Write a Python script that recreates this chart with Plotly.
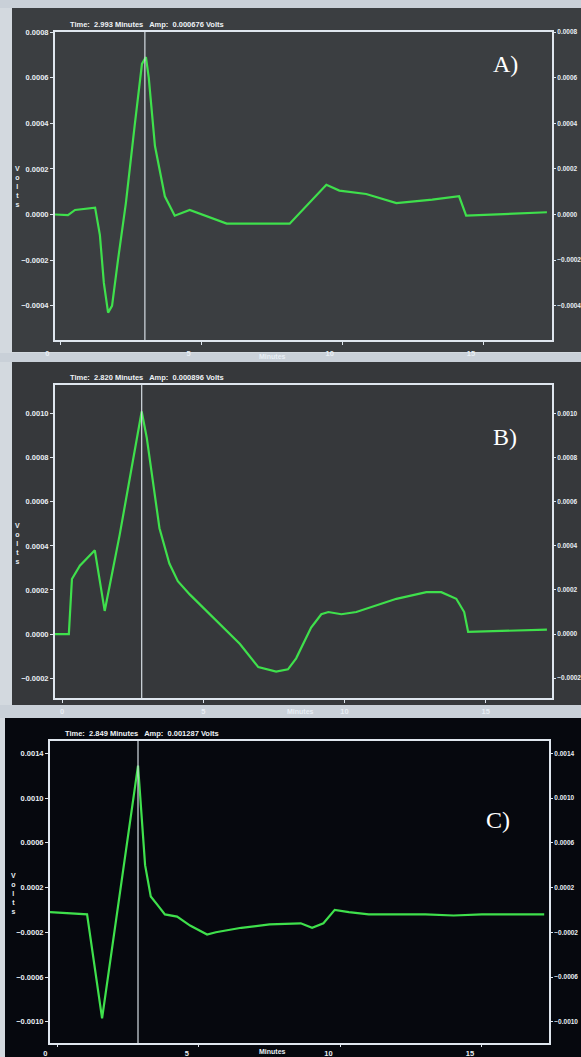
import plotly.graph_objects as go

W, H = 581, 1057

# ---------------- data ----------------
A_TIME = [-0.19, 0.27, 0.52, 1.23, 1.40, 1.54, 1.69, 1.83, 2.04, 2.32, 2.64, 2.89, 3.03, 3.13,
          3.35, 3.70, 4.05, 4.58, 5.89, 8.12, 9.42, 9.88, 10.83, 11.90, 13.17, 14.12, 14.37, 17.23]
A_VOLTS = [0.0, -0.000003, 0.00002, 0.00003, -0.00009, -0.0003, -0.00043, -0.0004, -0.0002,
           0.00005, 0.0004, 0.00066, 0.00069, 0.0006, 0.0003, 0.00008, -0.000005, 0.00002,
           -0.00004, -0.00004, 0.00013, 0.000105, 0.00009, 0.00005, 0.000065, 0.00008,
           -0.000005, 0.00001]

B_TIME = [-0.25, 0.24, 0.35, 0.63, 1.16, 1.51, 2.04, 2.82, 3.00, 3.20, 3.45, 3.80, 4.10, 4.52,
          5.23, 6.30, 6.95, 7.58, 8.00, 8.29, 8.82, 9.18, 9.43, 9.89, 10.42, 11.84, 12.90,
          13.43, 13.96, 14.24, 14.38, 17.17]
B_VOLTS = [0.0, 0.0, 0.00025, 0.00031, 0.00038, 0.000105, 0.00045, 0.00101, 0.00089, 0.00070,
           0.00048, 0.00032, 0.00024, 0.00018, 0.00009, -0.000045, -0.00015, -0.00017, -0.00016,
           -0.00011, 0.00003, 0.00009, 0.0001, 0.00009, 0.0001, 0.00016, 0.00019, 0.00019,
           0.00016, 0.00010, 0.00001, 0.00002]

C_TIME = [-0.26, 1.05, 1.58, 2.85, 3.10, 3.30, 3.55, 3.80, 4.23, 4.69, 5.29, 5.60, 6.50, 7.50,
          8.60, 9.00, 9.40, 9.80, 10.30, 11.00, 13.00, 14.00, 15.00, 17.20]
C_VOLTS = [-0.00002, -0.00004, -0.00097, 0.00129, 0.0004, 0.00012, 0.00004, -0.00004, -0.00006,
           -0.00014, -0.00022, -0.0002, -0.00016, -0.00013, -0.00012, -0.00016, -0.00012, 0.0,
           -0.00002, -0.00004, -0.00004, -0.00005, -0.00004, -0.00004]

CURSOR = {"A": 2.993, "B": 2.820, "C": 2.849}
AMP = {"A": "0.000676", "B": "0.000896", "C": "0.001287"}
LETTERS = ["A)", "B)", "C)"]

Y_RANGES = [[-0.00055, 0.0008], [-0.00029, 0.00113], [-0.00119, 0.00151]]
Y_TICK0 = [0.0, 0.0, 0.0002]
Y_DTICK = [0.0002, 0.0002, 0.0004]
X_RANGES = [[-0.19, 17.41], [-0.25, 17.35], [-0.26, 17.37]]
X_TICKS = [0, 5, 10, 15]

# ---------------- layout geometry (pixels) ----------------
def px(x):
    return x / W

def py(y):
    return 1 - y / H

panels = [
    dict(bg="#3b3e41", x0=55, x1=552, y0=32, y1=340, scr=(12, 8, 581, 352), tit_y=25, tit_x=68,
         let=(505, 64), volts=(17, 187), minutes=(272, 357), xshift=-13, xlen=3, xoff=2),
    dict(bg="#36383b", x0=55, x1=552, y0=385, y1=698, scr=(12, 362, 581, 705), tit_y=377, tit_x=68,
         let=(505, 437), volts=(17, 543), minutes=(300, 711), xshift=0, xlen=3, xoff=2),
    dict(bg="#06080e", x0=50, x1=549, y0=741, y1=1043, scr=(5, 718, 581, 1057), tit_y=733, tit_x=63,
         let=(498, 820), volts=(13, 893), minutes=(272, 1051), xshift=-12, xlen=2, xoff=0),
]
series = [(A_TIME, A_VOLTS), (B_TIME, B_VOLTS), (C_TIME, C_VOLTS)]
keys = ["A", "B", "C"]

fig = go.Figure()
shapes = []
annotations = []
layout = dict(width=W, height=H, margin=dict(l=0, r=0, t=0, b=0, autoexpand=False),
              paper_bgcolor="#d3d9df", plot_bgcolor="rgba(0,0,0,0)", showlegend=False)

AX_COL = "#dfe6ee"
TICK_FONT = dict(family="Liberation Sans", size=7.5, color="#e8eef4", weight="bold")
RIGHT_FONT = dict(family="Liberation Sans", size=6.5, color="#e8eef4", weight="bold")
GREEN = "#3fe04c"

for i, (p, (t, v), k) in enumerate(zip(panels, series, keys)):
    n = i + 1
    xa = "xaxis" if n == 1 else f"xaxis{n}"
    ya = "yaxis" if n == 1 else f"yaxis{n}"
    yr = f"yaxis{n + 3}"
    xref = "x" if n == 1 else f"x{n}"
    yref = "y" if n == 1 else f"y{n}"
    yrref = f"y{n + 3}"

    sx0, sy0, sx1, sy1 = p["scr"]
    shapes.append(dict(type="rect", xref="paper", yref="paper", x0=px(sx0), x1=px(sx1),
                       y0=py(sy1), y1=py(sy0), fillcolor=p["bg"], line=dict(width=0), layer="below"))

    layout[xa] = dict(domain=[px(p["x0"]), px(p["x1"])], anchor=yref, range=X_RANGES[i],
                      tickvals=X_TICKS, ticktext=[str(x) for x in X_TICKS], showgrid=False,
                      zeroline=False, showline=True, linecolor=AX_COL, linewidth=2, mirror=True,
                      ticks="outside", ticklen=p["xlen"], tickcolor=AX_COL, tickfont=TICK_FONT,
                      ticklabelshift=p["xshift"], ticklabelstandoff=p["xoff"], automargin=False)
    layout[ya] = dict(domain=[py(p["y1"]), py(p["y0"])], anchor=xref, range=Y_RANGES[i],
                      tick0=Y_TICK0[i], dtick=Y_DTICK[i], tickformat=".4f", showgrid=False,
                      zeroline=False, showline=True, linecolor=AX_COL, linewidth=2,
                      ticks="outside", ticklen=3, tickcolor=AX_COL, tickfont=TICK_FONT,
                      ticklabelstandoff=0, automargin=False)
    layout[yr] = dict(overlaying=yref, anchor=xref, side="right", range=Y_RANGES[i],
                      tick0=Y_TICK0[i], dtick=Y_DTICK[i], tickformat=".4f", showgrid=False,
                      zeroline=False, showline=True, linecolor=AX_COL, linewidth=2,
                      ticks="outside", ticklen=2, tickcolor=AX_COL, tickfont=RIGHT_FONT,
                      ticklabelstandoff=0, automargin=False)

    fig.add_trace(go.Scatter(x=t, y=v, mode="lines", xaxis=xref, yaxis=yref,
                             line=dict(color=GREEN, width=2.2), hoverinfo="skip"))
    fig.add_trace(go.Scatter(x=t, y=v, mode="lines", xaxis=xref, yaxis=yrref,
                             line=dict(color=GREEN, width=0), opacity=0, hoverinfo="skip"))

    shapes.append(dict(type="line", xref=xref, yref=f"{yref} domain", x0=CURSOR[k], x1=CURSOR[k],
                       y0=0, y1=1, line=dict(color="#d6dde4", width=1.2)))

    annotations.append(dict(xref="paper", yref="paper", x=px(p["tit_x"]), y=py(p["tit_y"]),
                            xanchor="left", yanchor="middle", showarrow=False,
                            text=f"Time:  {CURSOR[k]:.3f} Minutes   Amp:  {AMP[k]} Volts",
                            font=dict(family="Liberation Sans", size=7.5, color="#eef2f6", weight="bold")))
    annotations.append(dict(xref="paper", yref="paper", x=px(p["let"][0]), y=py(p["let"][1]),
                            xanchor="center", yanchor="middle", showarrow=False, text=LETTERS[i],
                            font=dict(family="Liberation Serif", size=24, color="#ffffff")))
    annotations.append(dict(xref="paper", yref="paper", x=px(p["volts"][0]), y=py(p["volts"][1]),
                            xanchor="center", yanchor="middle", showarrow=False,
                            text="V<br>o<br>l<br>t<br>s",
                            font=dict(family="Liberation Sans", size=7, color="#e8eef4", weight="bold")))
    annotations.append(dict(xref="paper", yref="paper", x=px(p["minutes"][0]), y=py(p["minutes"][1]),
                            xanchor="center", yanchor="middle", showarrow=False, text="Minutes",
                            font=dict(family="Liberation Sans", size=7, color="#e8eef4", weight="bold")))

for (y0, y1) in [(0, 8), (353, 362), (705, 718)]:
    shapes.append(dict(type="rect", xref="paper", yref="paper", x0=0, x1=1, y0=py(y1), y1=py(y0),
                       fillcolor="#c9d0d8", line=dict(width=0), layer="below"))

layout["shapes"] = shapes
layout["annotations"] = annotations
fig.update_layout(**layout)
fig.write_html(
    "out.html",
    config={"displayModeBar": False},
    post_script="document.documentElement.style.overflow='hidden';"
                "document.body.style.margin='0';document.body.style.overflow='hidden';",
)
